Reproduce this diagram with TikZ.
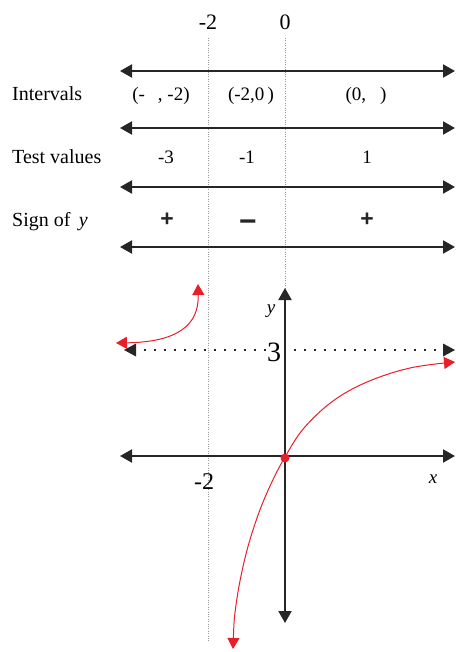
\documentclass[tikz,border=0pt]{standalone}
\usepackage{fontspec}
\setmainfont{Liberation Serif}
\newfontfamily\signfont{Liberation Sans}
\usetikzlibrary{arrows.meta}
\definecolor{crv}{RGB}{232,30,40}
\begin{document}
\begin{tikzpicture}[x=1pt,y=-1pt,
  tipk/.tip={Triangle[length=12pt,width=13pt]},
  tipr/.tip={Triangle[length=11pt,width=12pt]},
  numline/.style={line width=2pt, black!85, tipk-tipk},
  guide/.style={gray!80, line width=0.6pt, dash pattern=on 0.8pt off 1.6pt},
  asym/.style={line width=1.6pt, black!85, dash pattern=on 1.6pt off 8.4pt},
  curve/.style={crv, line width=1pt},
  lbl/.style={inner sep=0pt, font=\fontsize{20}{20}\selectfont},
  val/.style={inner sep=0pt, font=\fontsize{19}{19}\selectfont},
  big/.style={inner sep=0pt, font=\fontsize{22}{22}\selectfont},
  sgn/.style={inner sep=0pt, font=\fontsize{23}{23}\signfont\bfseries, text=black!85}]
\useasboundingbox (0,0) rectangle (455,652);
% top labels
\node[big] (tm2) at (208,22) {-2};
\node[big] (t0) at (285,22) {0};
% guides
\coordinate (g1a) at (208,38); \coordinate (g1b) at (208,642);
\coordinate (g2a) at (285,38); \coordinate (g2b) at (285,292);
\draw[guide] (g1a) -- (g1b);
\draw[guide] (g2a) -- (g2b);
% number lines
\foreach \n/\yy in {1/71,2/128,3/187,4/247}{
  \coordinate (L\n) at (120,\yy); \coordinate (R\n) at (455,\yy);
  \draw[numline] (L\n) -- (R\n);
}
% row labels
\node[lbl, anchor=base west] (rint) at (12,101) {Intervals};
\node[lbl, anchor=base west] (rtest) at (12,164) {Test values};
\node[lbl, anchor=base west] (rsign) at (12,226) {Sign of \,\textit{y}};
% intervals
\node[val, anchor=base] (i1) at (161,101) {(-\hspace{13pt}, -2)};
\node[val, anchor=base] (i2) at (251,101) {(-2,0\,)};
\node[val, anchor=base] (i3) at (366,101) {(0,\hspace{14pt})};
% test values
\node[val, anchor=base] (v1) at (166,164) {-3};
\node[val, anchor=base] (v2) at (247,164) {-1};
\node[val, anchor=base] (v3) at (367,164) {1};
% signs
\node[sgn] (s1) at (167,220) {+};
\node[sgn, font=\fontsize{30}{30}\signfont\bfseries] (s2) at (248,226) {−};
\node[sgn] (s3) at (367,220) {+};
% axes
\coordinate (xl) at (120,456); \coordinate (xr) at (455,456);
\coordinate (yb) at (285,623); \coordinate (yt) at (285,288);
\draw[numline] (xl) -- (xr);
\draw[numline] (yb) -- (yt);
% asymptote y=3
\coordinate (al) at (124,350); \coordinate (ar) at (455,350);
\draw[asym] (134,350) -- (445,350);
\fill[black!85] (al) -- ++(12,-6.5) -- ++(0,13) -- cycle;
\fill[black!85] (ar) -- ++(-12,-6.5) -- ++(0,13) -- cycle;
% labels on graph
\node[inner sep=0pt, font=\fontsize{19}{19}\selectfont\itshape] (ylab) at (271,311) {y};
\node[inner sep=0pt, font=\fontsize{28}{28}\selectfont, fill=white, inner xsep=1pt] (three) at (274,352) {3};
\node[inner sep=0pt, font=\fontsize{24}{24}\selectfont] (gm2) at (204,482) {-2};
\node[inner sep=0pt, font=\fontsize{19}{19}\selectfont\itshape] (xlab) at (433,479) {x};
% curves
\coordinate (lt) at (198,284); \coordinate (ll) at (116,343);
\draw[curve, tipr-tipr] (lt) .. controls (199,325) and (178,342) .. (ll);
\draw[curve, tipr-tipr] plot[smooth, tension=0.6] coordinates {(233,649) (236,605) (245,558) (257,518) (270,486) (285,457) (304,428) (333,401) (367,382) (410,368) (455,362)};
\node[circle, fill=crv, inner sep=0pt, minimum size=9pt] (o) at (285,458) {};
\end{tikzpicture}
\end{document}
